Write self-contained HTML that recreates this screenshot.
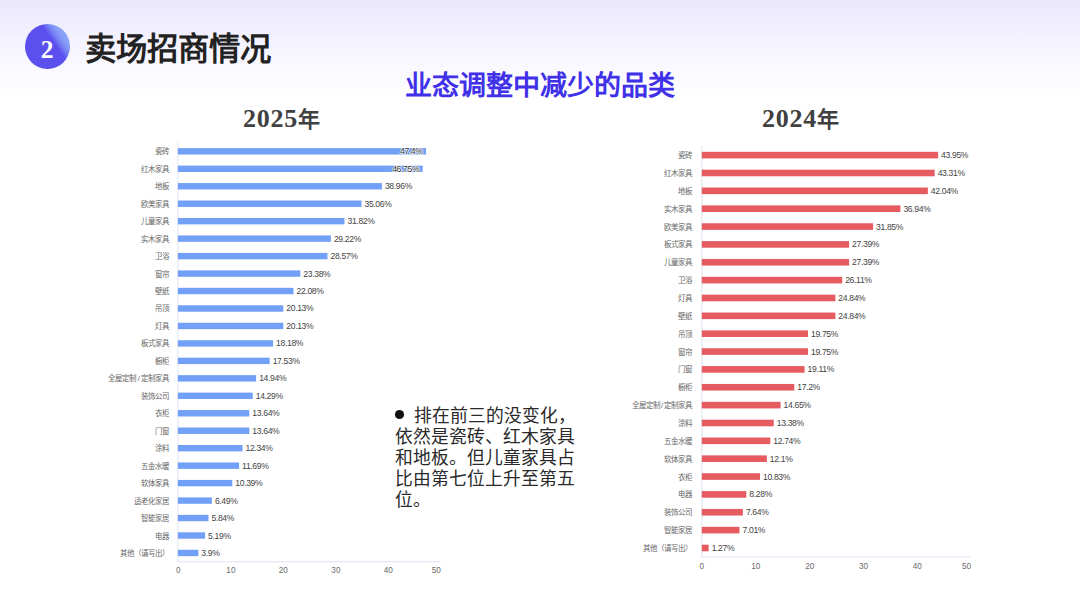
<!DOCTYPE html>
<html lang="zh-CN"><head><meta charset="utf-8">
<style>
html,body{margin:0;padding:0;}
body{width:1080px;height:608px;position:relative;overflow:hidden;background:linear-gradient(180deg,#eae7fd 0px,#f4f2fe 40px,#fdfdff 85px,#ffffff 100px,#ffffff 608px);font-family:"Liberation Sans",sans-serif;}
svg.g{position:absolute;left:0;top:0;}
.cat{position:absolute;font-size:7.5px;line-height:12px;color:#666;white-space:nowrap;}
.val{position:absolute;font-size:8.6px;letter-spacing:-0.35px;line-height:12px;color:#444;white-space:nowrap;}
.val.in{color:#333;text-shadow:0.6px 0 0 #fff,-0.6px 0 0 #fff,0 0.6px 0 #fff,0 -0.6px 0 #fff;}
.tick{position:absolute;width:30px;text-align:center;font-size:8.2px;line-height:12px;color:#6a6a6a;}
.circ{position:absolute;left:24.5px;top:24px;width:45px;height:45px;border-radius:50%;background:linear-gradient(55deg,#5b4fee 0%,#5b4fee 62%,#7682f3 70%,#88a0f7 79%,#8ea8f8 100%);}
.circ span{position:absolute;left:0;top:2.5px;width:45px;height:45px;line-height:45px;text-align:center;color:#fff;font-family:"Liberation Serif",serif;font-weight:bold;font-size:25.5px;}
.title{position:absolute;left:85px;top:26.5px;font-family:"Liberation Serif",serif;font-weight:900;font-size:31.3px;line-height:46px;color:#222;white-space:nowrap;}
.sub{position:absolute;left:405px;top:65.8px;font-family:"Liberation Serif",serif;font-weight:900;font-size:27px;line-height:40px;color:#4030e8;white-space:nowrap;}
.yr{position:absolute;font-family:"Liberation Serif",serif;font-weight:bold;font-size:26px;line-height:36px;color:#404040;white-space:nowrap;}
.yr b{letter-spacing:0.75px;} .yr i{font-style:normal;font-size:22px;font-weight:bold;}
.note{position:absolute;left:394.5px;top:405.5px;width:190px;font-family:"Liberation Serif",serif;font-size:17.8px;line-height:21.2px;color:#2a2a2a;}
.dot{position:absolute;left:394.5px;top:410.4px;width:9.5px;height:9px;border-radius:50%;background:#111;}
</style></head><body>
<div class="circ"><span>2</span></div>
<div class="title">卖场招商情况</div>
<div class="sub">业态调整中减少的品类</div>
<div class="yr" style="left:243px;top:101px"><b>2025</b><i>年</i></div>
<div class="yr" style="left:762px;top:101px"><b>2024</b><i>年</i></div>
<svg class="g" width="1080" height="608" viewBox="0 0 1080 608">
<rect x="177.30" y="142.60" width="1.2" height="419.10" fill="#e3e7f3"/>
<rect x="177.30" y="561.10" width="263.10" height="1.2" fill="#e3e7f3"/>
<rect x="177.90" y="148.13" width="248.19" height="6.4" fill="#72a0f6"/>
<rect x="177.90" y="165.59" width="244.78" height="6.4" fill="#72a0f6"/>
<rect x="177.90" y="183.06" width="203.99" height="6.4" fill="#72a0f6"/>
<rect x="177.90" y="200.52" width="183.57" height="6.4" fill="#72a0f6"/>
<rect x="177.90" y="217.98" width="166.61" height="6.4" fill="#72a0f6"/>
<rect x="177.90" y="235.44" width="153.00" height="6.4" fill="#72a0f6"/>
<rect x="177.90" y="252.91" width="149.59" height="6.4" fill="#72a0f6"/>
<rect x="177.90" y="270.37" width="122.42" height="6.4" fill="#72a0f6"/>
<rect x="177.90" y="287.83" width="115.61" height="6.4" fill="#72a0f6"/>
<rect x="177.90" y="305.29" width="105.40" height="6.4" fill="#72a0f6"/>
<rect x="177.90" y="322.76" width="105.40" height="6.4" fill="#72a0f6"/>
<rect x="177.90" y="340.22" width="95.19" height="6.4" fill="#72a0f6"/>
<rect x="177.90" y="357.68" width="91.79" height="6.4" fill="#72a0f6"/>
<rect x="177.90" y="375.14" width="78.23" height="6.4" fill="#72a0f6"/>
<rect x="177.90" y="392.61" width="74.82" height="6.4" fill="#72a0f6"/>
<rect x="177.90" y="410.07" width="71.42" height="6.4" fill="#72a0f6"/>
<rect x="177.90" y="427.53" width="71.42" height="6.4" fill="#72a0f6"/>
<rect x="177.90" y="444.99" width="64.61" height="6.4" fill="#72a0f6"/>
<rect x="177.90" y="462.46" width="61.21" height="6.4" fill="#72a0f6"/>
<rect x="177.90" y="479.92" width="54.40" height="6.4" fill="#72a0f6"/>
<rect x="177.90" y="497.38" width="33.98" height="6.4" fill="#72a0f6"/>
<rect x="177.90" y="514.84" width="30.58" height="6.4" fill="#72a0f6"/>
<rect x="177.90" y="532.31" width="27.17" height="6.4" fill="#72a0f6"/>
<rect x="177.90" y="549.77" width="20.42" height="6.4" fill="#72a0f6"/>
<rect x="701.20" y="146.20" width="1.2" height="410.70" fill="#e3e7f3"/>
<rect x="701.20" y="556.30" width="269.40" height="1.2" fill="#e3e7f3"/>
<rect x="701.80" y="151.83" width="236.32" height="6.6" fill="#e65b5f"/>
<rect x="701.80" y="169.68" width="232.88" height="6.6" fill="#e65b5f"/>
<rect x="701.80" y="187.54" width="226.05" height="6.6" fill="#e65b5f"/>
<rect x="701.80" y="205.40" width="198.63" height="6.6" fill="#e65b5f"/>
<rect x="701.80" y="223.25" width="171.26" height="6.6" fill="#e65b5f"/>
<rect x="701.80" y="241.11" width="147.28" height="6.6" fill="#e65b5f"/>
<rect x="701.80" y="258.97" width="147.28" height="6.6" fill="#e65b5f"/>
<rect x="701.80" y="276.82" width="140.39" height="6.6" fill="#e65b5f"/>
<rect x="701.80" y="294.68" width="133.56" height="6.6" fill="#e65b5f"/>
<rect x="701.80" y="312.54" width="133.56" height="6.6" fill="#e65b5f"/>
<rect x="701.80" y="330.39" width="106.20" height="6.6" fill="#e65b5f"/>
<rect x="701.80" y="348.25" width="106.20" height="6.6" fill="#e65b5f"/>
<rect x="701.80" y="366.11" width="102.75" height="6.6" fill="#e65b5f"/>
<rect x="701.80" y="383.96" width="92.48" height="6.6" fill="#e65b5f"/>
<rect x="701.80" y="401.82" width="78.77" height="6.6" fill="#e65b5f"/>
<rect x="701.80" y="419.68" width="71.94" height="6.6" fill="#e65b5f"/>
<rect x="701.80" y="437.53" width="68.50" height="6.6" fill="#e65b5f"/>
<rect x="701.80" y="455.39" width="65.06" height="6.6" fill="#e65b5f"/>
<rect x="701.80" y="473.25" width="58.23" height="6.6" fill="#e65b5f"/>
<rect x="701.80" y="491.10" width="44.52" height="6.6" fill="#e65b5f"/>
<rect x="701.80" y="508.96" width="41.08" height="6.6" fill="#e65b5f"/>
<rect x="701.80" y="526.82" width="37.69" height="6.6" fill="#e65b5f"/>
<rect x="701.80" y="544.67" width="6.83" height="6.6" fill="#e65b5f"/>
</svg>
<div class="cat" style="right:911.10px;top:146.33px">瓷砖</div>
<div class="val in" style="right:657.41px;top:145.33px">47.4%</div>
<div class="cat" style="right:911.10px;top:163.79px">红木家具</div>
<div class="val in" style="right:660.82px;top:162.79px">46.75%</div>
<div class="cat" style="right:911.10px;top:181.26px">地板</div>
<div class="val" style="left:384.89px;top:180.26px">38.96%</div>
<div class="cat" style="right:911.10px;top:198.72px">欧美家具</div>
<div class="val" style="left:364.47px;top:197.72px">35.06%</div>
<div class="cat" style="right:911.10px;top:216.18px">儿童家具</div>
<div class="val" style="left:347.51px;top:215.18px">31.82%</div>
<div class="cat" style="right:911.10px;top:233.64px">实木家具</div>
<div class="val" style="left:333.90px;top:232.64px">29.22%</div>
<div class="cat" style="right:911.10px;top:251.11px">卫浴</div>
<div class="val" style="left:330.49px;top:250.11px">28.57%</div>
<div class="cat" style="right:911.10px;top:268.57px">窗帘</div>
<div class="val" style="left:303.32px;top:267.57px">23.38%</div>
<div class="cat" style="right:911.10px;top:286.03px">壁纸</div>
<div class="val" style="left:296.51px;top:285.03px">22.08%</div>
<div class="cat" style="right:911.10px;top:303.49px">吊顶</div>
<div class="val" style="left:286.30px;top:302.49px">20.13%</div>
<div class="cat" style="right:911.10px;top:320.96px">灯具</div>
<div class="val" style="left:286.30px;top:319.96px">20.13%</div>
<div class="cat" style="right:911.10px;top:338.42px">板式家具</div>
<div class="val" style="left:276.09px;top:337.42px">18.18%</div>
<div class="cat" style="right:911.10px;top:355.88px">橱柜</div>
<div class="val" style="left:272.69px;top:354.88px">17.53%</div>
<div class="cat" style="right:911.10px;top:373.34px">全屋定制<span style="margin:0 1.2px">/</span>定制家具</div>
<div class="val" style="left:259.13px;top:372.34px">14.94%</div>
<div class="cat" style="right:911.10px;top:390.81px">装饰公司</div>
<div class="val" style="left:255.72px;top:389.81px">14.29%</div>
<div class="cat" style="right:911.10px;top:408.27px">衣柜</div>
<div class="val" style="left:252.32px;top:407.27px">13.64%</div>
<div class="cat" style="right:911.10px;top:425.73px">门窗</div>
<div class="val" style="left:252.32px;top:424.73px">13.64%</div>
<div class="cat" style="right:911.10px;top:443.19px">涂料</div>
<div class="val" style="left:245.51px;top:442.19px">12.34%</div>
<div class="cat" style="right:911.10px;top:460.66px">五金水暖</div>
<div class="val" style="left:242.11px;top:459.66px">11.69%</div>
<div class="cat" style="right:911.10px;top:478.12px">软体家具</div>
<div class="val" style="left:235.30px;top:477.12px">10.39%</div>
<div class="cat" style="right:911.10px;top:495.58px">适老化家居</div>
<div class="val" style="left:214.88px;top:494.58px">6.49%</div>
<div class="cat" style="right:911.10px;top:513.04px">智能家居</div>
<div class="val" style="left:211.48px;top:512.04px">5.84%</div>
<div class="cat" style="right:911.10px;top:530.51px">电器</div>
<div class="val" style="left:208.07px;top:529.51px">5.19%</div>
<div class="cat" style="right:911.10px;top:547.97px">其他（请写出）</div>
<div class="val" style="left:201.32px;top:546.97px">3.9%</div>
<div class="tick" style="left:163.30px;top:564.60px">0</div>
<div class="tick" style="left:215.90px;top:564.60px">10</div>
<div class="tick" style="left:268.30px;top:564.60px">20</div>
<div class="tick" style="left:320.90px;top:564.60px">30</div>
<div class="tick" style="left:373.30px;top:564.60px">40</div>
<div class="tick" style="left:421.30px;top:564.60px">50</div>
<div class="cat" style="right:387.80px;top:150.13px">瓷砖</div>
<div class="val" style="left:941.12px;top:149.13px">43.95%</div>
<div class="cat" style="right:387.80px;top:167.98px">红木家具</div>
<div class="val" style="left:937.68px;top:166.98px">43.31%</div>
<div class="cat" style="right:387.80px;top:185.84px">地板</div>
<div class="val" style="left:930.85px;top:184.84px">42.04%</div>
<div class="cat" style="right:387.80px;top:203.70px">实木家具</div>
<div class="val" style="left:903.43px;top:202.70px">36.94%</div>
<div class="cat" style="right:387.80px;top:221.55px">欧美家具</div>
<div class="val" style="left:876.06px;top:220.55px">31.85%</div>
<div class="cat" style="right:387.80px;top:239.41px">板式家具</div>
<div class="val" style="left:852.08px;top:238.41px">27.39%</div>
<div class="cat" style="right:387.80px;top:257.27px">儿童家具</div>
<div class="val" style="left:852.08px;top:256.27px">27.39%</div>
<div class="cat" style="right:387.80px;top:275.12px">卫浴</div>
<div class="val" style="left:845.19px;top:274.12px">26.11%</div>
<div class="cat" style="right:387.80px;top:292.98px">灯具</div>
<div class="val" style="left:838.36px;top:291.98px">24.84%</div>
<div class="cat" style="right:387.80px;top:310.84px">壁纸</div>
<div class="val" style="left:838.36px;top:309.84px">24.84%</div>
<div class="cat" style="right:387.80px;top:328.69px">吊顶</div>
<div class="val" style="left:811.00px;top:327.69px">19.75%</div>
<div class="cat" style="right:387.80px;top:346.55px">窗帘</div>
<div class="val" style="left:811.00px;top:345.55px">19.75%</div>
<div class="cat" style="right:387.80px;top:364.41px">门窗</div>
<div class="val" style="left:807.55px;top:363.41px">19.11%</div>
<div class="cat" style="right:387.80px;top:382.26px">橱柜</div>
<div class="val" style="left:797.28px;top:381.26px">17.2%</div>
<div class="cat" style="right:387.80px;top:400.12px">全屋定制<span style="margin:0 1.2px">/</span>定制家具</div>
<div class="val" style="left:783.57px;top:399.12px">14.65%</div>
<div class="cat" style="right:387.80px;top:417.98px">涂料</div>
<div class="val" style="left:776.74px;top:416.98px">13.38%</div>
<div class="cat" style="right:387.80px;top:435.83px">五金水暖</div>
<div class="val" style="left:773.30px;top:434.83px">12.74%</div>
<div class="cat" style="right:387.80px;top:453.69px">软体家具</div>
<div class="val" style="left:769.86px;top:452.69px">12.1%</div>
<div class="cat" style="right:387.80px;top:471.55px">衣柜</div>
<div class="val" style="left:763.03px;top:470.55px">10.83%</div>
<div class="cat" style="right:387.80px;top:489.40px">电器</div>
<div class="val" style="left:749.32px;top:488.40px">8.28%</div>
<div class="cat" style="right:387.80px;top:507.26px">装饰公司</div>
<div class="val" style="left:745.88px;top:506.26px">7.64%</div>
<div class="cat" style="right:387.80px;top:525.12px">智能家居</div>
<div class="val" style="left:742.49px;top:524.12px">7.01%</div>
<div class="cat" style="right:387.80px;top:542.97px">其他（请写出）</div>
<div class="val" style="left:711.63px;top:541.97px">1.27%</div>
<div class="tick" style="left:686.80px;top:560.60px">0</div>
<div class="tick" style="left:740.80px;top:560.60px">10</div>
<div class="tick" style="left:794.80px;top:560.60px">20</div>
<div class="tick" style="left:848.50px;top:560.60px">30</div>
<div class="tick" style="left:902.20px;top:560.60px">40</div>
<div class="tick" style="left:951.60px;top:560.60px">50</div>
<div class="dot"></div>
<div class="note"><span style="display:inline-block;width:19px"></span>排在前三的没变化，依然是瓷砖、红木家具和地板。但儿童家具占比由第七位上升至第五位。</div>
</body></html>
